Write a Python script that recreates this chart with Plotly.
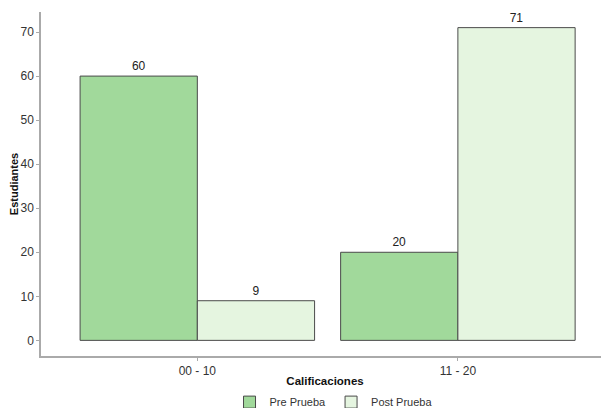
import plotly.graph_objects as go

categories = ["00 - 10", "11 - 20"]
pre_values = [60, 20]
post_values = [9, 71]
series_names = ["Pre Prueba", "Post Prueba"]
y_ticks = [0, 10, 20, 30, 40, 50, 60, 70]

fig = go.Figure()
fig.add_trace(go.Bar(
    x=categories, y=pre_values, name=series_names[0],
    marker=dict(color="#a1d99b", line=dict(color="#4a4a4a", width=1)),
    text=[str(v) for v in pre_values], textposition="outside",
    textfont=dict(size=12, color="#222222"), cliponaxis=False,
))
fig.add_trace(go.Bar(
    x=categories, y=post_values, name=series_names[1],
    marker=dict(color="#e5f5e0", line=dict(color="#4a4a4a", width=1)),
    text=[str(v) for v in post_values], textposition="outside",
    textfont=dict(size=12, color="#222222"), cliponaxis=False,
))

# page body has an 8px margin, so the figure is 601x400 and offset by 8px
fig.update_layout(
    width=601, height=400,
    margin=dict(l=33, r=0, t=4, b=52, autoexpand=False),
    paper_bgcolor="white", plot_bgcolor="white",
    font=dict(family="Liberation Sans, Arial, sans-serif", size=12, color="#333333"),
    barmode="group", bargap=0.1, bargroupgap=0,
    showlegend=True,
    legend=dict(orientation="h", x=0.515, xanchor="center", y=-0.134, yanchor="middle",
                font=dict(size=11, color="#333333"), itemwidth=30, traceorder="normal"),
    xaxis=dict(
        range=[-0.6, 1.58], type="category", automargin=False,
        showline=True, linecolor="#aaaaaa", linewidth=1.5,
        ticks="outside", tickcolor="#aaaaaa", ticklen=3,
        showgrid=False, zeroline=False,
        tickfont=dict(size=12, color="#333333"),
        title=dict(text="<b>Calificaciones</b>", font=dict(size=11.5, color="#111111"), standoff=0),
    ),
    yaxis=dict(
        range=[-3.55, 74.55], tickvals=y_ticks, automargin=False,
        showline=True, linecolor="#aaaaaa", linewidth=1.5,
        ticks="outside", tickcolor="#aaaaaa", ticklen=3,
        showgrid=False, zeroline=False,
        tickfont=dict(size=12, color="#333333"),
        title=dict(text="<b>Estudiantes</b>", font=dict(size=11, color="#111111"), standoff=4),
    ),
)

fig.write_html("out.html")
